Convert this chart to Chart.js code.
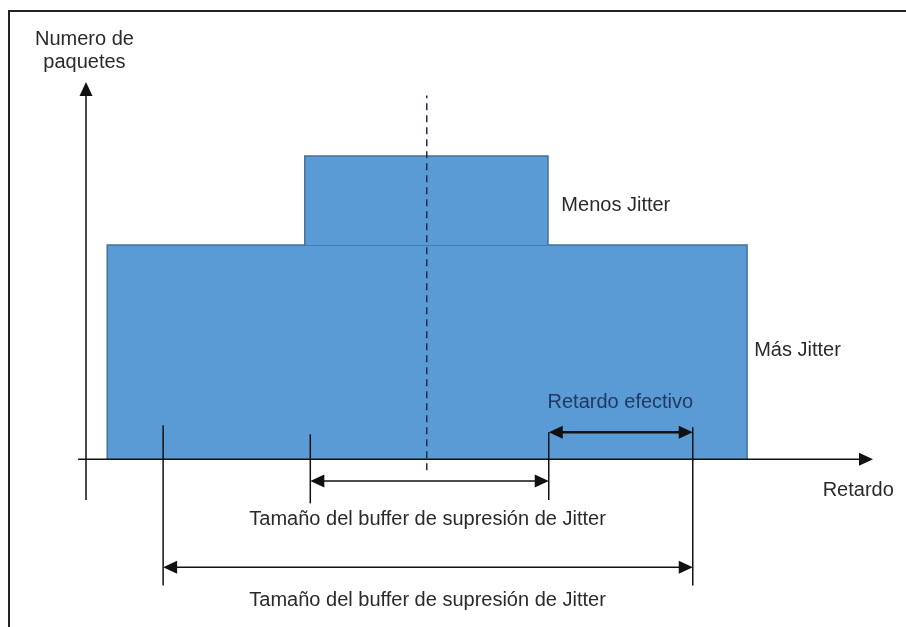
<!DOCTYPE html>
<html>
<head>
<meta charset="utf-8">
<script src="https://cdn.jsdelivr.net/npm/chart.js"></script>
<style>
  html, body { margin: 0; padding: 0; background: #fff; }
  #wrap { width: 906px; height: 627px; position: relative; }
</style>
</head>
<body>
<div id="wrap"><canvas id="chart" width="906" height="627"></canvas></div>
<script>
// valores del diagrama (unidades del eje, no pixeles)
const masJitterX = [2.7, 84.0];       // distribución ancha
const masJitterAlto = 53;
const menosJitterX = [27.8, 58.7];    // distribución estrecha
const menosJitterAlto = 75;
const retardoMedio = 43.3;            // línea discontinua
const retardoMedioY = [-2.7, 90];
const ejeYTope = 93.3;

// flechas: [x inicio, x fin, y]
const flechaEfectivo = [58.8, 77.1, 6.7];
const flechaBuffer1 = [28.5, 58.8, -5.4];
const flechaBuffer2 = [9.8, 77.1, -26.7];

// marcas verticales: [x, y arriba, y abajo]
const marcas = [
    [9.8, 8.4, -31.2],
    [28.5, 6.2, -10.9],
    [58.8, 6.7, -10.1],
    [77.1, 7.9, -31.2]
];

const etiquetas = [
    { text: 'Menos Jitter', x: 60.4, y: 62.9, align: 'left' },
    { text: 'Más Jitter', x: 84.9, y: 27, align: 'left' },
    { text: 'Retardo', x: 93.6, y: -7.7, align: 'left' },
    { text: 'Numero de', x: -0.2, y: 103.9, align: 'center' },
    { text: 'paquetes', x: -0.2, y: 98.2, align: 'center' },
    { text: 'Tamaño del buffer de supresión de Jitter', x: 43.4, y: -14.8, align: 'center' },
    { text: 'Tamaño del buffer de supresión de Jitter', x: 43.4, y: -34.9, align: 'center' }
];
const etiquetaEfectivo = { text: 'Retardo efectivo', x: 67.9, y: 14.1 };

const AZUL = '#5b9bd5';
const AZUL_BORDE = '#41719c';
const NEGRO = '#111';
const FUENTE = '20px "Liberation Sans", Arial, sans-serif';

function punta(ctx, x, y, dir) {
    // triángulo relleno, dir: 'l','r','u'
    const L = 14, W = 6.5;
    ctx.beginPath();
    if (dir === 'r') { ctx.moveTo(x, y); ctx.lineTo(x - L, y - W); ctx.lineTo(x - L, y + W); }
    if (dir === 'l') { ctx.moveTo(x, y); ctx.lineTo(x + L, y - W); ctx.lineTo(x + L, y + W); }
    if (dir === 'u') { ctx.moveTo(x, y); ctx.lineTo(x - W, y + L); ctx.lineTo(x + W, y + L); }
    ctx.closePath();
    ctx.fill();
}

const dibujoPlugin = {
    id: 'dibujo',
    afterDatasetsDraw(chart) {
        const ctx = chart.ctx;
        const sx = chart.scales.x, sy = chart.scales.y;
        const px = v => sx.getPixelForValue(v);
        const py = v => sy.getPixelForValue(v);
        ctx.save();

        // marco
        ctx.strokeStyle = '#222';
        ctx.lineWidth = 2;
        ctx.beginPath();
        ctx.moveTo(9, 640); ctx.lineTo(9, 11); ctx.lineTo(920, 11);
        ctx.stroke();

        ctx.strokeStyle = NEGRO;
        ctx.fillStyle = NEGRO;
        ctx.lineWidth = 1.5;

        // eje Y
        ctx.beginPath();
        ctx.moveTo(px(0), py(-10.1)); ctx.lineTo(px(0), py(ejeYTope) + 10);
        ctx.stroke();
        punta(ctx, px(0), py(ejeYTope), 'u');

        // eje X
        ctx.beginPath();
        ctx.moveTo(px(-1), py(0)); ctx.lineTo(px(100) - 10, py(0));
        ctx.stroke();
        punta(ctx, px(100), py(0), 'r');

        // marcas verticales
        marcas.forEach(m => {
            ctx.beginPath();
            ctx.moveTo(px(m[0]), py(m[1])); ctx.lineTo(px(m[0]), py(m[2]));
            ctx.stroke();
        });

        // flechas
        [flechaEfectivo, flechaBuffer1, flechaBuffer2].forEach(f => {
            const x0 = px(f[0]), x1 = px(f[1]), y = py(f[2]);
            ctx.lineWidth = f === flechaEfectivo ? 2.5 : 1.5;
            ctx.beginPath();
            ctx.moveTo(x0 + 8, y); ctx.lineTo(x1 - 8, y);
            ctx.stroke();
            punta(ctx, x0, y, 'l');
            punta(ctx, x1, y, 'r');
        });

        // textos
        ctx.font = FUENTE;
        ctx.textBaseline = 'middle';
        ctx.fillStyle = '#2a2a2a';
        etiquetas.forEach(t => {
            ctx.textAlign = t.align;
            ctx.fillText(t.text, px(t.x), py(t.y));
        });
        ctx.fillStyle = '#1f3864';
        ctx.textAlign = 'center';
        ctx.fillText(etiquetaEfectivo.text, px(etiquetaEfectivo.x), py(etiquetaEfectivo.y));

        ctx.restore();
    }
};

const rect = (xs, y0, y1) => [
    { x: xs[0], y: y0 }, { x: xs[0], y: y1 }, { x: xs[1], y: y1 }, { x: xs[1], y: y0 }
];

new Chart(document.getElementById('chart'), {
    type: 'line',
    data: {
        datasets: [
            {
                label: 'Retardo medio',
                data: [{ x: retardoMedio, y: retardoMedioY[0] }, { x: retardoMedio, y: retardoMedioY[1] }],
                borderColor: '#1f2d4d',
                borderWidth: 1.5,
                borderDash: [7, 5],
                fill: false,
                pointRadius: 0,
                order: 0
            },
            {
                label: 'Menos Jitter',
                data: rect(menosJitterX, masJitterAlto, menosJitterAlto),
                backgroundColor: AZUL,
                borderColor: AZUL_BORDE,
                borderWidth: 1.5,
                fill: { value: masJitterAlto },
                pointRadius: 0,
                tension: 0,
                order: 1
            },
            {
                label: 'Más Jitter',
                data: rect(masJitterX, 0, masJitterAlto),
                backgroundColor: AZUL,
                borderColor: AZUL_BORDE,
                borderWidth: 1.5,
                fill: { value: 0 },
                pointRadius: 0,
                tension: 0,
                order: 2
            }
        ]
    },
    options: {
        responsive: false,
        animation: false,
        devicePixelRatio: 1,
        layout: { padding: { left: 86, right: 33, top: 55, bottom: 6 } },
        plugins: { legend: { display: false }, tooltip: { enabled: false } },
        scales: {
            x: { type: 'linear', min: 0, max: 100, display: false },
            y: { type: 'linear', min: -40, max: 100, display: false }
        }
    },
    plugins: [dibujoPlugin]
});
</script>
</body>
</html>
